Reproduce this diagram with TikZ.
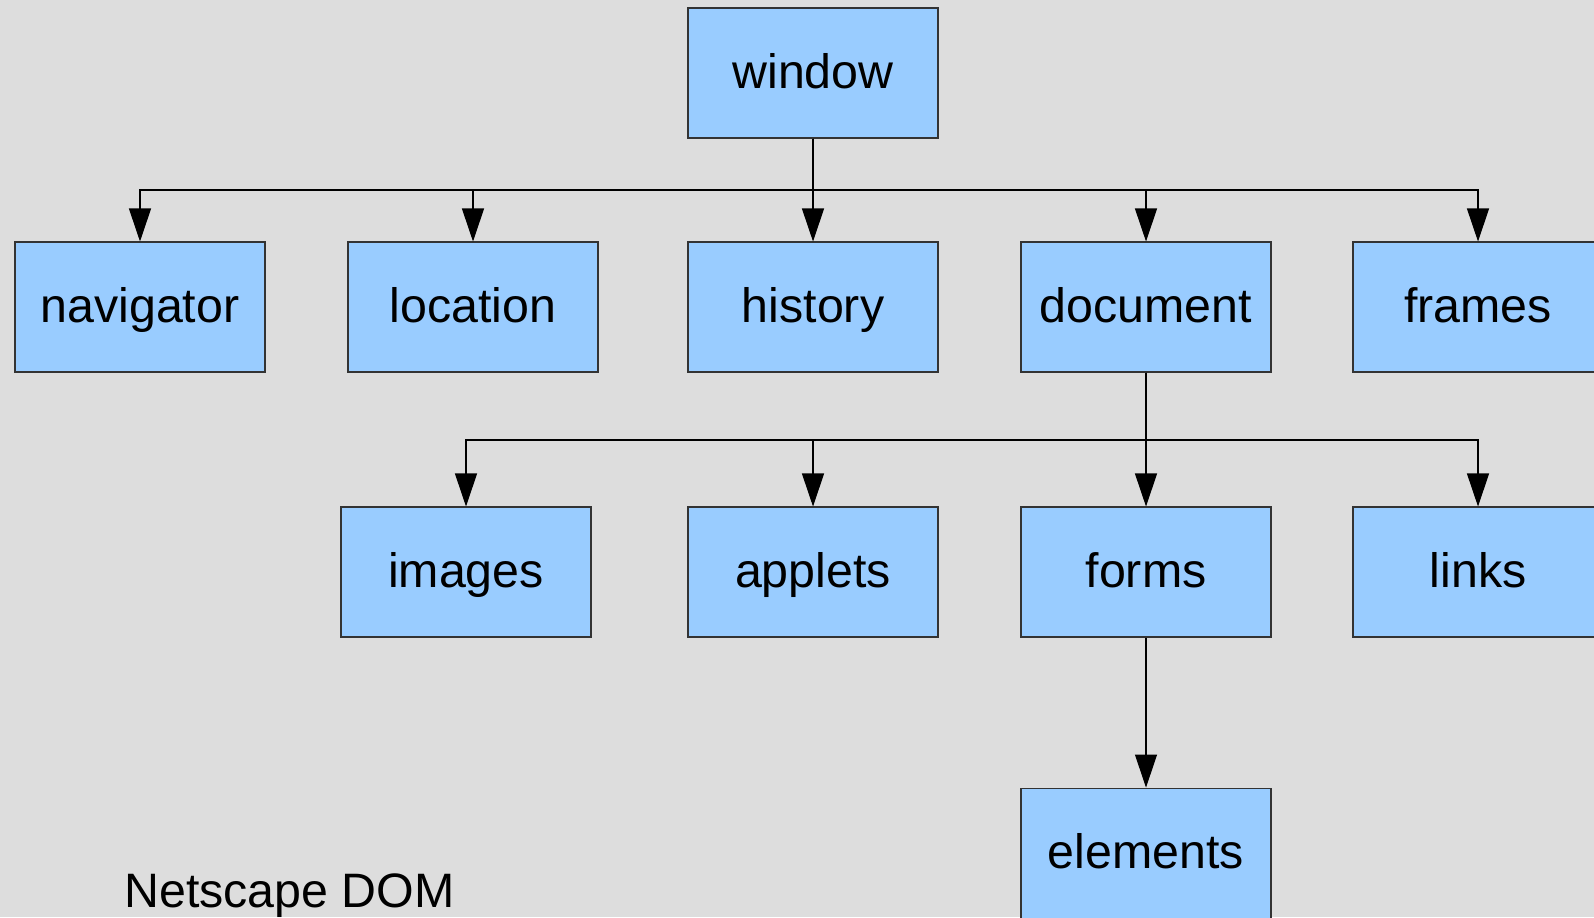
\documentclass[tikz,border=0pt]{standalone}
\usepackage{fontspec}
\setmainfont{Liberation Sans}
\usetikzlibrary{positioning,arrows.meta}

\definecolor{paneGrey}{HTML}{DDDDDD}
\definecolor{objBlue}{HTML}{99CCFF}

\begin{document}
\begin{tikzpicture}[
  x=0.2mm, y=-0.2mm,
  font=\fontsize{27.5}{33}\selectfont,
  obj/.style = {
    rectangle, draw=black!80, line width=0.6pt, fill=objBlue,
    minimum width=5cm, minimum height=2.6cm,
    text height=22pt, text depth=4pt, inner sep=0pt,
  },
  link/.style = {-{Triangle[length=6.6mm,width=4.4mm]}, line width=0.6pt, draw=black},
]
  \fill[paneGrey] (0,0) rectangle (1594,917);
  \useasboundingbox (0,0) rectangle (1594,917);

  \node[obj] (window) at (813,73) {window};

  \node[obj] (navigator) at (140,307)  {navigator};
  \node[obj] (location)  at (473,307)  {location};
  \node[obj] (history)   at (813,307)  {history};
  \node[obj] (document)  at (1146,307) {document};
  \node[obj] (frames)    at (1478,307) {frames};

  \node[obj] (images)  at (466,572)  {images};
  \node[obj] (applets) at (813,572)  {applets};
  \node[obj] (forms)   at (1146,572) {forms};
  \node[obj] (links)   at (1478,572) {links};

  \node[obj, below=3cm of forms] (elements) {elements};

  \node[anchor=base west, inner sep=0pt] (caption) at (124,907) {Netscape DOM};

  % window's children hang off one bus line
  \coordinate (bus1) at (813,190);
  \foreach \c in {navigator,location,history,document,frames}
    \draw[link] (window.south) -- (bus1) -| (\c.north);

  % document's children
  \coordinate (bus2) at (1146,440);
  \foreach \c in {images,applets,forms,links}
    \draw[link] (document.south) -- (bus2) -| (\c.north);

  \draw[link] (forms) -- (elements);
\end{tikzpicture}
\end{document}
